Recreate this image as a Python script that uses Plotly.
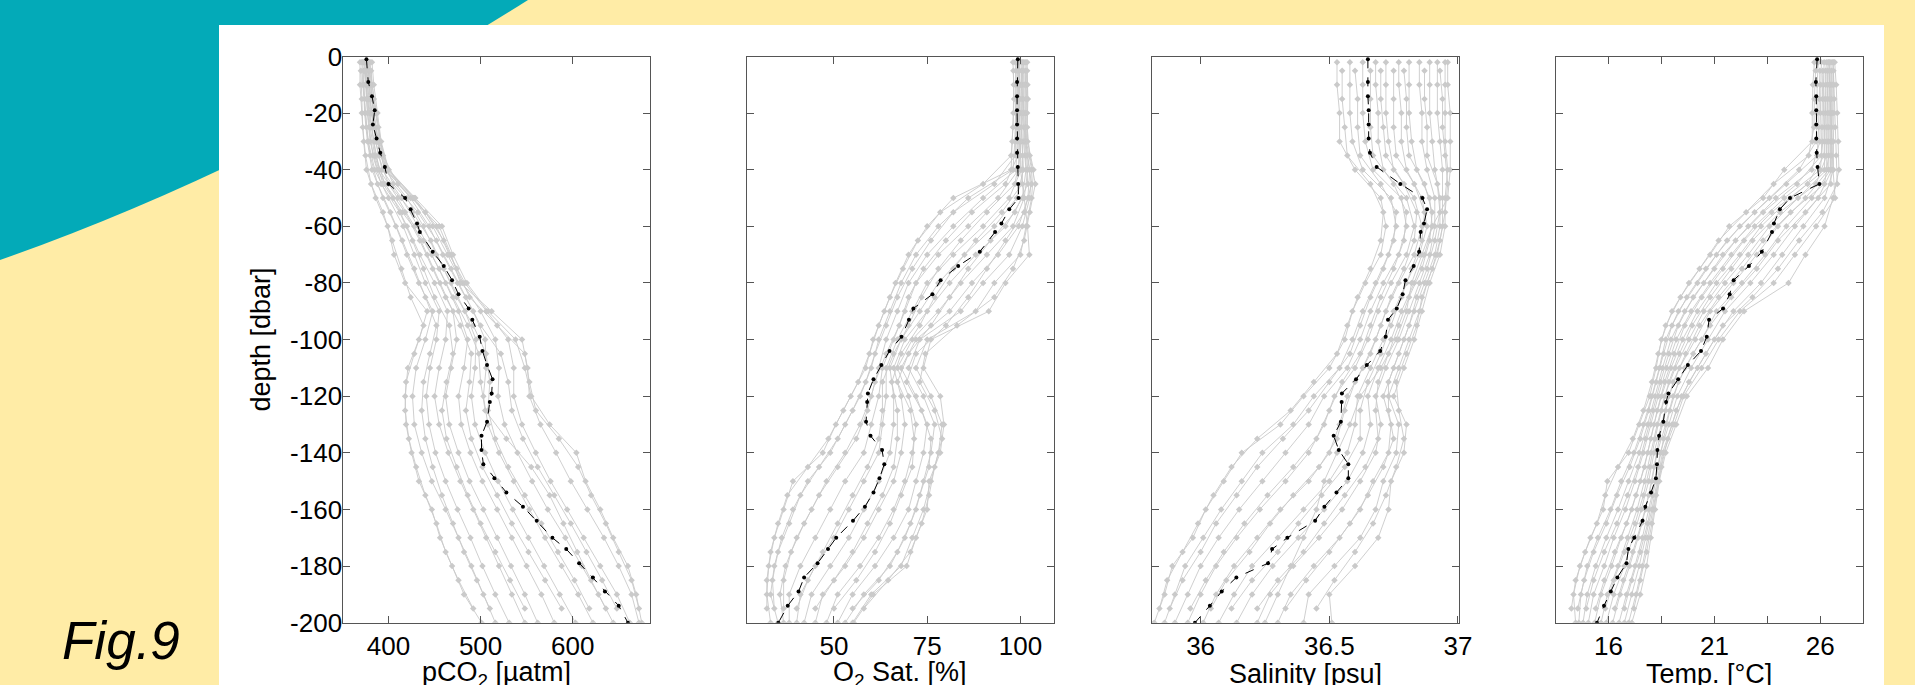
import plotly.graph_objects as go

W, H = 1915, 685

# ---------------- data ----------------
depth_gray = [-2, -10, -20, -30, -40, -50, -60, -70, -80, -90, -100, -110, -120, -130,
              -140, -150, -160, -170, -180, -190, -200]
depth_gray_b = [-5, -15, -25, -35, -45, -55, -65, -75, -85, -95, -105, -115, -125, -135,
                -145, -155, -165, -175, -185, -195]
depth_mean = [-1, -9, -14, -19, -24, -29, -34, -39, -45, -50, -54, -59, -62, -69, -74, -79,
              -84, -89, -93, -99, -104, -109, -114, -119, -122, -129, -134, -139, -144, -149,
              -154, -159, -164, -170, -174, -179, -184, -189, -194, -200]

pco2_mean = [376, 378, 382, 385, 383, 387, 391, 396, 400, 418, 424, 431, 434, 448, 460, 469,
             476, 487, 491, 499, 502, 507, 513, 512, 510, 507, 501, 501, 503, 515, 528, 546,
             561, 578, 593, 607, 622, 635, 650, 660]
o2_mean = [99.3, 99.1, 99.1, 99.1, 99.1, 99.1, 99.1, 99.3, 99.4, 99.5, 97.0, 94.9, 93.2, 89.1,
           83.3, 78.6, 76.4, 71.3, 70.1, 68.1, 64.9, 62.7, 60.6, 59.1, 58.9, 58.6, 59.8, 62.9,
           63.5, 62.2, 60.6, 58.3, 55.1, 50.6, 48.4, 45.6, 42.0, 40.5, 37.6, 35.1]
sal_mean = [36.650, 36.650, 36.650, 36.653, 36.653, 36.653, 36.658, 36.684, 36.776, 36.862,
            36.880, 36.868, 36.855, 36.849, 36.828, 36.796, 36.785, 36.762, 36.728, 36.719,
            36.698, 36.646, 36.604, 36.549, 36.548, 36.545, 36.517, 36.537, 36.574, 36.574,
            36.528, 36.481, 36.445, 36.337, 36.278, 36.262, 36.139, 36.082, 36.036, 35.978]
temp_mean = [25.85, 25.79, 25.81, 25.81, 25.81, 25.81, 25.83, 25.87, 25.96, 24.57, 24.09, 23.81,
             23.72, 23.24, 22.63, 21.91, 21.72, 21.41, 20.75, 20.64, 20.37, 19.75, 19.29, 18.83,
             18.72, 18.59, 18.39, 18.31, 18.29, 18.24, 18.01, 17.74, 17.61, 17.22, 16.94, 16.85,
             16.42, 16.11, 15.79, 15.46]

# individual casts, sampled on depth_gray
pco2_profiles = [
    [369, 369, 371, 373, 376, 386, 399, 406, 418, 442, 433, 421, 418, 419, 425, 433, 447, 456, 469, 482, 501],
    [372, 373, 374, 377, 382, 394, 408, 420, 433, 448, 440, 430, 426, 428, 436, 447, 462, 476, 490, 503, 516],
    [371, 372, 375, 378, 385, 400, 416, 428, 440, 455, 452, 445, 441, 444, 451, 462, 475, 489, 502, 516, 531],
    [374, 375, 377, 380, 388, 405, 420, 434, 450, 464, 462, 455, 450, 455, 465, 478, 492, 506, 520, 534, 548],
    [373, 376, 379, 384, 390, 410, 428, 442, 456, 470, 474, 468, 462, 466, 476, 488, 503, 518, 533, 548, 562],
    [376, 378, 382, 386, 393, 414, 432, 447, 462, 476, 486, 482, 476, 479, 489, 502, 518, 534, 550, 566, 580],
    [375, 377, 381, 388, 396, 420, 438, 452, 468, 483, 495, 494, 490, 494, 505, 519, 535, 552, 569, 586, 603],
    [378, 379, 384, 389, 398, 424, 444, 459, 475, 492, 505, 506, 503, 508, 520, 536, 553, 570, 588, 606, 622],
    [377, 380, 386, 390, 399, 427, 448, 464, 480, 500, 516, 520, 519, 526, 540, 556, 573, 592, 610, 628, 644],
    [380, 382, 387, 391, 400, 428, 452, 466, 483, 506, 530, 536, 536, 545, 560, 576, 594, 612, 630, 648, 662],
    [379, 381, 384, 388, 396, 426, 455, 468, 478, 512, 545, 551, 553, 565, 582, 598, 616, 634, 650, 664, 672],
    [382, 384, 388, 392, 400, 429, 458, 470, 485, 508, 538, 548, 555, 575, 604, 614, 630, 644, 660, 669, 675],
]
# individual casts, sampled on depth_gray_b
pco2_profiles_b = [
    [370, 371, 372, 375, 381, 394, 404, 414, 424, 438, 428, 419, 418, 422, 430, 440, 452, 462, 476, 492],
    [373, 374, 376, 380, 388, 402, 415, 428, 440, 452, 445, 438, 436, 440, 448, 458, 470, 482, 496, 510],
    [375, 376, 379, 383, 392, 412, 426, 438, 450, 466, 470, 463, 458, 463, 474, 486, 500, 516, 532, 548],
    [376, 378, 382, 386, 396, 418, 434, 448, 462, 478, 490, 488, 484, 490, 502, 518, 534, 552, 570, 588],
    [378, 380, 384, 389, 400, 426, 446, 460, 474, 492, 506, 510, 508, 516, 530, 548, 566, 584, 602, 618],
    [379, 382, 386, 392, 405, 432, 452, 468, 484, 500, 522, 530, 534, 546, 562, 580, 598, 615, 632, 648],
    [381, 384, 389, 394, 410, 440, 460, 474, 488, 518, 548, 553, 560, 585, 606, 620, 636, 650, 664, 672],
    [374, 377, 380, 385, 394, 415, 438, 455, 470, 486, 498, 500, 505, 528, 555, 575, 590, 605, 620, 636],
]
o2_profiles = [
    [98.0, 98.2, 98.1, 97.8, 97.5, 82, 75, 70, 66.5, 63.5, 60.5, 58.5, 54.5, 50.5, 47, 39, 36.5, 34, 32.5, 32, 33],
    [98.6, 98.8, 98.7, 98.5, 98, 86, 78, 72, 68, 65, 62, 60, 57, 53, 49, 43, 39, 36, 34, 33, 35],
    [99.0, 99.2, 99.0, 99.1, 98.8, 90, 82, 75, 70, 67, 64, 62, 60, 57, 53, 48, 44, 40, 37, 35.5, 36.5],
    [99.4, 99.5, 99.4, 99.6, 99.5, 94, 86, 78, 72, 69, 66, 63, 62, 60, 58, 53, 49, 45, 41, 38, 38],
    [99.8, 99.9, 99.7, 100, 100.2, 97, 90, 82, 75, 71, 67, 64, 64, 63, 62, 58, 54, 50, 45, 41, 40],
    [100.2, 100.3, 100.1, 100.4, 100.8, 99, 93, 85, 78, 73, 68, 65, 66, 66, 65, 62, 58, 54, 49, 44, 42],
    [100.5, 100.6, 100.5, 100.8, 101.5, 100.5, 96, 88, 81, 75, 69, 66, 68, 69, 68, 66, 62, 58, 53, 47, 45],
    [100.8, 101.0, 100.9, 101.2, 102, 101, 98, 91, 84, 78, 71, 67, 70, 72, 71, 69, 66, 62, 57, 51, 48],
    [101.2, 101.3, 101.2, 101.4, 102.5, 102, 99.5, 94, 87, 81, 72, 68, 72, 75, 74, 72, 70, 66, 61, 55, 51],
    [101.5, 101.7, 101.5, 101.6, 103, 102.5, 100.5, 97, 90, 84, 73, 70, 74, 77, 76, 74, 72, 69, 65, 58, 53],
    [101.8, 101.9, 101.8, 101.9, 103.5, 103, 101.5, 100, 93, 88, 75, 72, 76, 79, 78, 76, 74, 71, 68, 60, 55],
    [99.6, 99.8, 99.5, 99.8, 100, 101, 101.9, 102.4, 96, 91.5, 76, 74, 78.5, 79.5, 78.5, 75.5, 75, 72, 69.5, 60.5, 55.3],
]
o2_profiles_b = [
    [98.1, 98.3, 98.0, 97.5, 90, 78.5, 72.5, 68.5, 65, 62, 59.5, 56.5, 52.5, 48.5, 43, 37.5, 35, 33, 32, 32],
    [98.8, 98.9, 98.8, 98.6, 93, 82, 76, 71, 67, 64, 61, 58.5, 55, 51, 46, 41, 38, 35, 33.5, 34],
    [99.3, 99.4, 99.3, 99.3, 96, 87, 80, 74, 70, 67.5, 64, 61, 59, 56, 51, 46, 42, 38.5, 36.5, 36.5],
    [99.7, 99.9, 99.8, 100, 98.5, 91, 84, 78, 73.5, 70, 66, 63, 63, 62, 59, 55, 51, 47, 43, 40],
    [100.3, 100.4, 100.2, 100.6, 100.5, 95, 88, 82, 77, 73, 68, 65.5, 67, 67, 66, 63, 59, 55, 50, 45],
    [100.7, 100.8, 100.9, 101.3, 102, 98.5, 92, 86, 81, 76, 70, 67, 70.5, 71.5, 71, 68, 65, 61, 56, 50],
    [101.3, 101.5, 101.4, 101.8, 103, 101, 96, 91, 86, 80, 72, 69.5, 73.5, 76, 75.5, 73, 70.5, 67, 62, 55],
    [101.8, 102, 101.8, 102.5, 104, 102.5, 101, 98, 93, 83, 74.5, 73, 77, 79, 77, 75.5, 73.5, 70.5, 64.5, 58],
]
sal_profiles = [
    [36.53, 36.53, 36.54, 36.54, 36.60, 36.70, 36.72, 36.70, 36.64, 36.59, 36.56, 36.50, 36.40, 36.31, 36.16, 36.09, 36.02, 35.97, 35.89, 35.86, 35.82],
    [36.58, 36.58, 36.58, 36.59, 36.63, 36.74, 36.76, 36.73, 36.68, 36.63, 36.59, 36.54, 36.44, 36.36, 36.24, 36.16, 36.08, 36.01, 35.94, 35.90, 35.86],
    [36.63, 36.63, 36.63, 36.64, 36.67, 36.78, 36.80, 36.77, 36.71, 36.66, 36.62, 36.57, 36.48, 36.42, 36.33, 36.24, 36.15, 36.07, 36.00, 35.95, 35.90],
    [36.68, 36.68, 36.69, 36.69, 36.71, 36.80, 36.83, 36.80, 36.74, 36.69, 36.65, 36.60, 36.52, 36.48, 36.42, 36.33, 36.23, 36.14, 36.06, 36.00, 35.95],
    [36.72, 36.72, 36.72, 36.73, 36.75, 36.83, 36.86, 36.83, 36.77, 36.72, 36.68, 36.63, 36.57, 36.54, 36.50, 36.42, 36.31, 36.22, 36.13, 36.06, 36.01],
    [36.77, 36.77, 36.78, 36.78, 36.80, 36.86, 36.88, 36.85, 36.80, 36.75, 36.71, 36.66, 36.61, 36.60, 36.57, 36.50, 36.40, 36.30, 36.20, 36.13, 36.07],
    [36.81, 36.81, 36.81, 36.82, 36.84, 36.89, 36.90, 36.87, 36.83, 36.78, 36.74, 36.69, 36.65, 36.66, 36.63, 36.57, 36.48, 36.38, 36.28, 36.20, 36.14],
    [36.85, 36.85, 36.86, 36.86, 36.88, 36.91, 36.91, 36.89, 36.85, 36.81, 36.77, 36.72, 36.68, 36.70, 36.68, 36.62, 36.55, 36.46, 36.36, 36.27, 36.22],
    [36.89, 36.89, 36.89, 36.90, 36.91, 36.93, 36.93, 36.91, 36.87, 36.83, 36.79, 36.75, 36.71, 36.74, 36.73, 36.67, 36.62, 36.54, 36.44, 36.35, 36.30],
    [36.92, 36.92, 36.92, 36.93, 36.94, 36.94, 36.94, 36.92, 36.88, 36.85, 36.81, 36.77, 36.73, 36.77, 36.76, 36.71, 36.68, 36.62, 36.52, 36.42, 36.40],
    [36.95, 36.95, 36.95, 36.95, 36.96, 36.95, 36.95, 36.93, 36.89, 36.86, 36.83, 36.79, 36.75, 36.80, 36.79, 36.74, 36.73, 36.69, 36.60, 36.50, 36.51],
    [36.96, 36.96, 36.97, 36.97, 36.97, 36.96, 36.90, 36.86, 36.82, 36.80, 36.76, 36.70, 36.62, 36.58, 36.53, 36.48, 36.45, 36.40, 36.35, 36.30, 36.25],
]
sal_profiles_b = [
    [36.55, 36.55, 36.56, 36.57, 36.66, 36.71, 36.70, 36.66, 36.61, 36.57, 36.53, 36.44, 36.35, 36.22, 36.12, 36.05, 35.99, 35.93, 35.87, 35.84],
    [36.60, 36.61, 36.61, 36.62, 36.70, 36.76, 36.75, 36.71, 36.66, 36.62, 36.58, 36.50, 36.42, 36.32, 36.22, 36.14, 36.06, 36.00, 35.93, 35.88],
    [36.66, 36.66, 36.66, 36.67, 36.75, 36.80, 36.79, 36.75, 36.70, 36.66, 36.62, 36.55, 36.50, 36.45, 36.36, 36.26, 36.17, 36.09, 36.02, 35.96],
    [36.70, 36.70, 36.71, 36.72, 36.79, 36.84, 36.83, 36.79, 36.74, 36.70, 36.66, 36.60, 36.56, 36.53, 36.46, 36.36, 36.27, 36.19, 36.10, 36.04],
    [36.75, 36.75, 36.75, 36.76, 36.83, 36.87, 36.86, 36.82, 36.78, 36.74, 36.70, 36.65, 36.62, 36.62, 36.56, 36.47, 36.38, 36.30, 36.20, 36.12],
    [36.79, 36.80, 36.80, 36.81, 36.87, 36.90, 36.89, 36.86, 36.81, 36.77, 36.73, 36.69, 36.68, 36.69, 36.64, 36.56, 36.48, 36.40, 36.30, 36.22],
    [36.87, 36.87, 36.88, 36.88, 36.92, 36.93, 36.91, 36.88, 36.84, 36.81, 36.77, 36.73, 36.73, 36.75, 36.71, 36.65, 36.58, 36.50, 36.41, 36.33],
    [36.93, 36.94, 36.94, 36.95, 36.96, 36.95, 36.93, 36.90, 36.86, 36.84, 36.80, 36.76, 36.77, 36.79, 36.76, 36.72, 36.67, 36.60, 36.52, 36.45],
]
temp_profiles = [
    [25.72, 25.65, 25.62, 25.62, 24.30, 23.30, 21.70, 20.80, 19.80, 19.00, 18.50, 18.25, 17.95, 17.45, 16.95, 15.95, 15.75, 15.15, 14.65, 14.35, 14.45],
    [25.90, 25.85, 25.85, 25.80, 25.00, 23.60, 22.20, 21.10, 20.20, 19.30, 18.70, 18.40, 18.05, 17.65, 17.20, 16.60, 16.10, 15.50, 15.00, 14.70, 14.60],
    [26.05, 26.02, 26.00, 25.98, 25.60, 23.90, 22.60, 21.40, 20.50, 19.60, 18.95, 18.55, 18.20, 17.85, 17.45, 16.95, 16.45, 15.90, 15.40, 15.00, 14.80],
    [26.18, 26.15, 26.15, 26.12, 26.00, 24.30, 22.90, 21.80, 20.80, 19.90, 19.20, 18.75, 18.35, 18.00, 17.65, 17.25, 16.80, 16.25, 15.80, 15.30, 15.05],
    [26.28, 26.26, 26.25, 26.22, 26.20, 24.60, 23.20, 22.20, 21.10, 20.20, 19.50, 18.95, 18.50, 18.15, 17.85, 17.50, 17.10, 16.60, 16.15, 15.65, 15.35],
    [26.36, 26.35, 26.35, 26.33, 26.30, 24.95, 23.60, 22.60, 21.50, 20.50, 19.80, 19.15, 18.65, 18.30, 18.00, 17.70, 17.35, 16.90, 16.45, 15.95, 15.65],
    [26.43, 26.43, 26.42, 26.40, 26.40, 25.30, 24.00, 23.00, 21.90, 20.80, 20.10, 19.35, 18.85, 18.50, 18.15, 17.90, 17.55, 17.15, 16.75, 16.25, 15.90],
    [26.50, 26.50, 26.50, 26.48, 26.48, 25.60, 24.40, 23.40, 22.30, 21.10, 20.40, 19.60, 19.05, 18.70, 18.30, 18.05, 17.75, 17.40, 17.00, 16.55, 16.20],
    [26.56, 26.57, 26.57, 26.55, 26.55, 25.90, 24.80, 23.80, 22.70, 21.50, 20.70, 19.90, 19.25, 18.85, 18.45, 18.20, 17.90, 17.60, 17.25, 16.85, 16.50],
    [26.62, 26.64, 26.64, 26.62, 26.62, 26.20, 25.20, 24.20, 23.20, 21.90, 21.00, 20.20, 19.45, 19.00, 18.55, 18.30, 18.05, 17.75, 17.45, 17.10, 16.75],
    [26.68, 26.75, 26.80, 26.85, 26.88, 26.60, 26.20, 25.30, 24.50, 22.40, 21.40, 20.70, 19.70, 19.20, 18.70, 18.40, 18.20, 18.00, 17.80, 17.50, 17.10],
    [26.40, 26.45, 26.50, 26.55, 26.60, 26.70, 25.80, 24.80, 23.80, 22.20, 21.20, 20.40, 19.55, 19.10, 18.60, 18.35, 18.10, 17.85, 17.60, 17.30, 16.95],
]
temp_profiles_b = [
    [25.78, 25.72, 25.70, 25.45, 23.80, 22.50, 21.20, 20.30, 19.40, 18.70, 18.35, 18.05, 17.65, 17.15, 16.45, 15.85, 15.45, 14.90, 14.45, 14.25],
    [25.98, 25.95, 25.92, 25.85, 24.40, 22.90, 21.60, 20.60, 19.70, 19.00, 18.60, 18.25, 17.90, 17.50, 17.00, 16.40, 15.90, 15.30, 14.85, 14.55],
    [26.12, 26.10, 26.08, 26.05, 24.90, 23.30, 22.00, 21.00, 20.00, 19.30, 18.85, 18.45, 18.10, 17.75, 17.40, 16.90, 16.40, 15.80, 15.30, 14.95],
    [26.24, 26.22, 26.20, 26.18, 25.40, 23.70, 22.40, 21.40, 20.40, 19.60, 19.10, 18.65, 18.30, 18.00, 17.70, 17.30, 16.85, 16.30, 15.80, 15.40],
    [26.33, 26.32, 26.31, 26.30, 25.80, 24.10, 22.80, 21.80, 20.80, 19.95, 19.35, 18.85, 18.50, 18.20, 17.95, 17.65, 17.25, 16.75, 16.25, 15.85],
    [26.42, 26.42, 26.40, 26.40, 26.20, 24.60, 23.30, 22.30, 21.20, 20.30, 19.65, 19.05, 18.70, 18.40, 18.15, 17.90, 17.55, 17.15, 16.70, 16.30],
    [26.52, 26.53, 26.53, 26.52, 26.50, 25.30, 24.00, 23.00, 21.80, 20.80, 20.00, 19.30, 18.90, 18.60, 18.35, 18.10, 17.85, 17.50, 17.10, 16.75],
    [26.62, 26.66, 26.70, 26.75, 26.80, 26.10, 25.00, 24.00, 22.80, 21.40, 20.60, 19.80, 19.20, 18.80, 18.50, 18.25, 18.05, 17.80, 17.50, 17.20],
]

depth_ticks = [-200, -180, -160, -140, -120, -100, -80, -60, -40, -20, 0]
pco2_ticks, pco2_labels = [400, 500, 600], ["400", "500", "600"]
o2_ticks, o2_labels = [50, 75, 100], ["50", "75", "100"]
sal_ticks, sal_labels = [36, 36.5, 37], ["36", "36.5", "37"]
temp_ticks, temp_labels = [16, 18.5, 21, 23.5, 26], ["16", " ", "21", " ", "26"]
x_titles = ["pCO<sub>2</sub> [µatm]", "O<sub>2</sub> Sat. [%]", "Salinity [psu]", "Temp. [°C]"]

# ---------------- style ----------------
FONT = "Liberation Sans, Arial, sans-serif"
FS = 26
FS_TITLE = 27
YELLOW = "#FFECA6"
TEAL = "#03AAB8"
GRAY = "#CACACA"
AX = "#555555"


def px(xp):
    return xp / W


def py(yp):
    return 1 - yp / H


panels = [
    (pco2_profiles, pco2_profiles_b, pco2_mean, [350, 684], pco2_ticks, pco2_labels),
    (o2_profiles, o2_profiles_b, o2_mean, [26.6, 109], o2_ticks, o2_labels),
    (sal_profiles, sal_profiles_b, sal_mean, [35.81, 37.004], sal_ticks, sal_labels),
    (temp_profiles, temp_profiles_b, temp_mean, [13.5, 28.03], temp_ticks, temp_labels),
]
x_doms = [(342.5, 650), (746.7, 1054), (1151.7, 1459), (1555.5, 1863.3)]
y_dom = [py(622.7), py(56.5)]

fig = go.Figure()
layout = {}
for i, (profs, profs_b, mean, rng, tv, tt) in enumerate(panels):
    xa = "x" if i == 0 else f"x{i+1}"
    ya = "y" if i == 0 else f"y{i+1}"
    for prof, dep in [(p, depth_gray) for p in profs] + [(p, depth_gray_b) for p in profs_b]:
        fig.add_trace(go.Scatter(
            x=prof, y=dep, mode="lines+markers", xaxis=xa, yaxis=ya,
            line=dict(color=GRAY, width=0.9),
            marker=dict(symbol="diamond", size=5, color=GRAY),
            showlegend=False, hoverinfo="skip"))
    fig.add_trace(go.Scatter(
        x=mean, y=depth_mean, mode="lines+markers", xaxis=xa, yaxis=ya,
        line=dict(color="black", width=1, dash="dash"),
        marker=dict(symbol="circle", size=4, color="black"),
        showlegend=False, hoverinfo="skip"))
    common = dict(showline=True, linecolor=AX, linewidth=1.3, mirror="ticks",
                  ticks="inside", ticklen=7, tickwidth=1, tickcolor=AX,
                  showgrid=False, zeroline=False, automargin=False,
                  tickfont=dict(family=FONT, size=FS, color="black"))
    layout["xaxis" if i == 0 else f"xaxis{i+1}"] = dict(
        domain=[px(x_doms[i][0]), px(x_doms[i][1])], range=rng,
        tickvals=tv, ticktext=tt, anchor=ya, ticklabelstandoff=0, **common)
    layout["yaxis" if i == 0 else f"yaxis{i+1}"] = dict(
        domain=y_dom, range=[-200, 0], tickvals=depth_ticks,
        ticktext=[str(v) for v in depth_ticks], showticklabels=(i == 0),
        anchor=xa, ticklabelstandoff=-6, **common)

annotations = []
for i, t in enumerate(x_titles):
    cx = (x_doms[i][0] + x_doms[i][1]) / 2
    annotations.append(dict(text=t, x=px(cx), y=py(674), xref="paper", yref="paper",
                            xanchor="center", yanchor="middle", showarrow=False,
                            font=dict(family=FONT, size=FS_TITLE, color="black")))
annotations.append(dict(text="depth [dbar]", x=px(261), y=py(339.6), xref="paper", yref="paper",
                        xanchor="center", yanchor="middle", textangle=-90, showarrow=False,
                        font=dict(family=FONT, size=FS_TITLE, color="black")))
annotations.append(dict(text="<i>Fig.9</i>", x=px(121), y=py(640), xref="paper", yref="paper",
                        xanchor="center", yanchor="middle", showarrow=False,
                        font=dict(family=FONT, size=53, color="black")))

shapes = [
    dict(type="path", xref="paper", yref="paper", layer="below",
         path=f"M 0,1 L 0,{py(260):.5f} Q {px(264):.5f},{py(167):.5f} {px(528):.5f},1 Z",
         fillcolor=TEAL, line=dict(width=0)),
    dict(type="rect", xref="paper", yref="paper", layer="below",
         x0=px(219), x1=px(1884), y0=0, y1=py(25),
         fillcolor="white", line=dict(width=0)),
]

fig.update_layout(
    width=W, height=H, margin=dict(l=0, r=0, t=0, b=0, pad=0, autoexpand=False),
    paper_bgcolor=YELLOW, plot_bgcolor="white",
    annotations=annotations, shapes=shapes, showlegend=False,
    **layout)

fig.write_html(
    "out.html", include_plotlyjs=True, config={"displayModeBar": False},
    post_script="document.documentElement.style.margin='0';document.body.style.margin='0';"
                "document.body.style.padding='0';document.body.style.overflow='hidden';"
                f"document.body.style.background='{YELLOW}';")
